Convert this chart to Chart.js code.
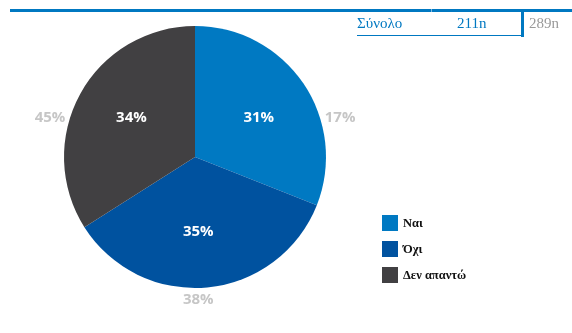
<!DOCTYPE html>
<html>
<head>
<meta charset="utf-8">
<script src="https://cdn.jsdelivr.net/npm/chart.js@4.4.0/dist/chart.umd.min.js"></script>
<style>
  body { margin: 0; background: #fff; }
  #wrap { position: relative; width: 572px; height: 333px; overflow: hidden; }
  #topline { position: absolute; left: 10px; top: 9px; width: 562px; height: 3px; background: #0078c1; }
  .cell { position: absolute; top: 14px; font-family: "Liberation Serif", serif; font-size: 15px; line-height: 18px; }
  #underline { position: absolute; left: 357px; top: 35px; width: 166px; height: 1px; background: #0078c1; }
  #vbar { position: absolute; left: 521px; top: 12px; width: 3px; height: 25px; background: #0078c1; }
  #sep { position: absolute; left: 431px; top: 9px; width: 1px; height: 3px; background: #7fb6e0; }
  canvas { position: absolute; left: 0; top: 0; }
</style>
</head>
<body>
<div id="wrap">
  <canvas id="pieChart" width="572" height="333"></canvas>
  <div id="topline"></div>
  <div id="sep"></div>
  <div class="cell" style="left:357px;color:#0078c1;">Σύνολο</div>
  <div class="cell" style="left:457px;color:#0078c1;">211n</div>
  <div id="vbar"></div>
  <div class="cell" style="left:529px;color:#9a9a9a;">289n</div>
  <div id="underline"></div>
</div>
<script>
// Data
const labels = ['Ναι', 'Όχι', 'Δεν απαντώ'];
const currentValues = [31, 35, 34];
const previousValues = [17, 38, 45];
const sliceColors = ['#0079c2', '#00529f', '#414042'];

// Percent labels inside and outside the pie
const pieLabels = {
  id: 'pieLabels',
  afterDatasetsDraw(chart) {
    const ctx = chart.ctx;
    const arcs = chart.getDatasetMeta(0).data;
    ctx.save();
    ctx.font = 'bold 15px "Open Sans"';
    ctx.textAlign = 'center';
    ctx.textBaseline = 'middle';
    arcs.forEach(function (arc, i) {
      const p = arc.getProps(['x', 'y', 'startAngle', 'endAngle', 'outerRadius'], true);
      const mid = (p.startAngle + p.endAngle) / 2 + 0.05;
      const r = p.outerRadius;
      const ix = p.x + Math.cos(mid) * r * 0.57;
      const iy = p.y + Math.sin(mid) * r * 0.57;
      ctx.fillStyle = '#ffffff';
      ctx.fillText(currentValues[i] + '%', ix, iy);

      // outer (previous) value
      let ox, oy;
      if (Math.abs(Math.cos(mid)) > Math.abs(Math.sin(mid))) {
        const dy = iy - p.y;
        const side = Math.cos(mid) > 0 ? 1 : -1;
        ox = p.x + side * (Math.sqrt(r * r - dy * dy) + 20);
        oy = iy;
      } else {
        const side = Math.sin(mid) > 0 ? 1 : -1;
        ox = ix;
        oy = p.y + side * (r + 12);
      }
      ctx.fillStyle = '#c6c6c6';
      ctx.fillText(previousValues[i] + '%', ox, oy);
    });
    ctx.restore();
  }
};

// Legend drawn at the bottom right
const boxLegend = {
  id: 'boxLegend',
  afterDraw(chart) {
    const ctx = chart.ctx;
    const colors = chart.data.datasets[0].backgroundColor;
    ctx.save();
    ctx.font = 'bold 12.5px "Liberation Serif"';
    ctx.textBaseline = 'middle';
    chart.data.labels.forEach(function (label, i) {
      const y = 215 + i * 26;
      ctx.fillStyle = colors[i];
      ctx.fillRect(382, y, 16, 16);
      ctx.fillStyle = '#111111';
      ctx.fillText(label, 403, y + 9);
    });
    ctx.restore();
  }
};

new Chart(document.getElementById('pieChart').getContext('2d'), {
  type: 'pie',
  data: {
    labels: labels,
    datasets: [{
      data: currentValues,
      backgroundColor: sliceColors,
      borderWidth: 0
    }]
  },
  options: {
    responsive: false,
    animation: false,
    layout: {
      padding: { left: 64, right: 246, top: 26, bottom: 45 }
    },
    plugins: {
      legend: { display: false },
      tooltip: { enabled: false }
    }
  },
  plugins: [pieLabels, boxLegend]
});
</script>
</body>
</html>
